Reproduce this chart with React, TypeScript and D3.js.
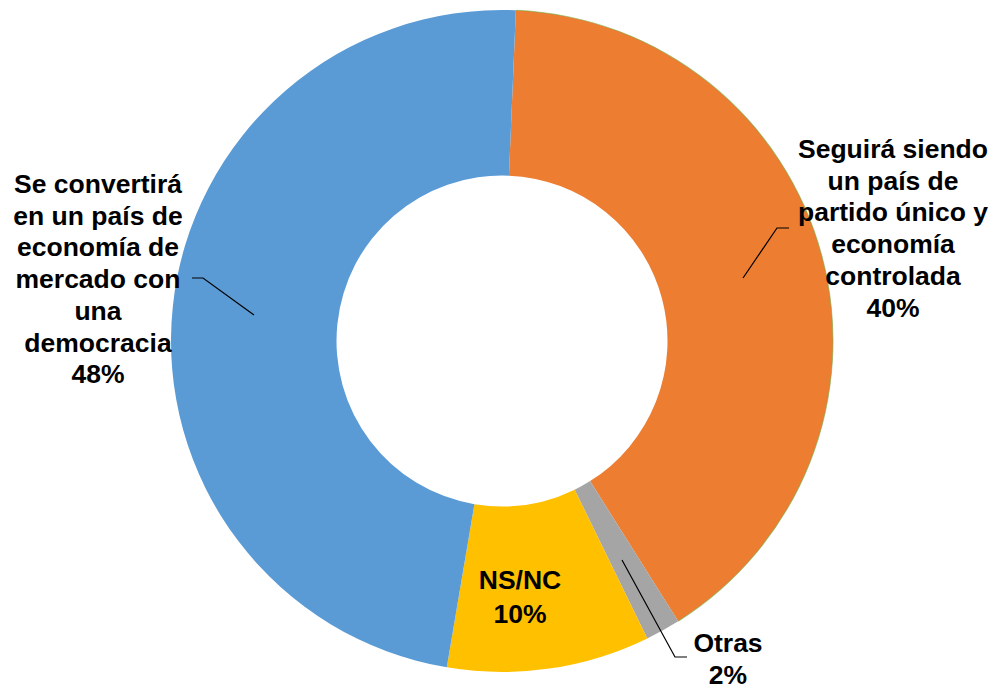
import React from "react";
import * as d3 from "d3";

const categories = ["Seguirá siendo un país de partido único y economía controlada", "Otras", "NS/NC", "Se convertirá en un país de economía de mercado con una democracia"];
const values = [40.4, 1.7, 9.9, 48.0];
const percentLabels = ["40%", "2%", "10%", "48%"];
const colors = ["#ED7D31", "#A5A5A5", "#FFC000", "#5B9BD5"];
const labelLines = [
  ["Seguirá siendo", "un país de", "partido único y", "economía", "controlada"],
  ["Otras"],
  ["NS/NC"],
  ["Se convertirá", "en un país de", "economía de", "mercado con", "una", "democracia"],
];

const W = 997;
const H = 689;
const cx = 502;
const cy = 341;
const R = 331;
const r = 165.5;
const startDeg = 2.4;

export default function App() {
  const pie = d3
    .pie<number>()
    .sort(null)
    .value((d) => d)
    .startAngle((startDeg * Math.PI) / 180)
    .endAngle(((startDeg + 360) * Math.PI) / 180);
  const arcs = pie(values);
  const arc = d3.arc<d3.PieArcDatum<number>>().innerRadius(r).outerRadius(R);
  const edgeArc = d3.arc<d3.PieArcDatum<number>>().innerRadius(R - 0.5).outerRadius(R + 0.5);

  const font = "'Liberation Sans', Arial, Helvetica, sans-serif";
  const fs = 26.5;
  const lh = 31.7;

  // label anchors (center x, first baseline)
  const labelPos = [
    { x: 893, y: 158 },
    { x: 728, y: 652 },
    { x: 520, y: 589 },
    { x: 98, y: 193 },
  ];
  const leaders = [
    [[743, 278], [777, 228], [789, 228]],
    [[622, 560], [675, 657], [687, 657]],
    null,
    [[254, 315], [203, 278], [192, 278]],
  ];
  const line = d3.line();

  return (
    <svg width={W} height={H} style={{ display: "block", position: "absolute", left: 0, top: 0 }}>
      <rect width={W} height={H} fill="#ffffff" />
      <g transform={`translate(${cx},${cy})`}>
        {arcs.map((a, i) => (
          <path key={i} d={arc(a) || ""} fill={colors[i]} />
        ))}
        <path d={edgeArc(arcs[0]) || ""} fill="#70AD47" opacity={0.6} />
      </g>
      {leaders.map((pts, i) =>
        pts ? (
          <path key={"l" + i} d={line(pts as [number, number][]) || ""} fill="none" stroke="#000" strokeWidth={1.2} />
        ) : null
      )}
      {labelLines.map((lines, i) => {
        const p = labelPos[i];
        const all = [...lines, percentLabels[i]];
        const step = i === 2 ? 34 : lh;
        return (
          <text key={"t" + i} fontFamily={font} fontWeight="bold" fontSize={fs} textAnchor="middle" fill="#000">
            {all.map((s, j) => (
              <tspan key={j} x={p.x} y={p.y + j * step}>
                {s}
              </tspan>
            ))}
          </text>
        );
      })}
    </svg>
  );
}
